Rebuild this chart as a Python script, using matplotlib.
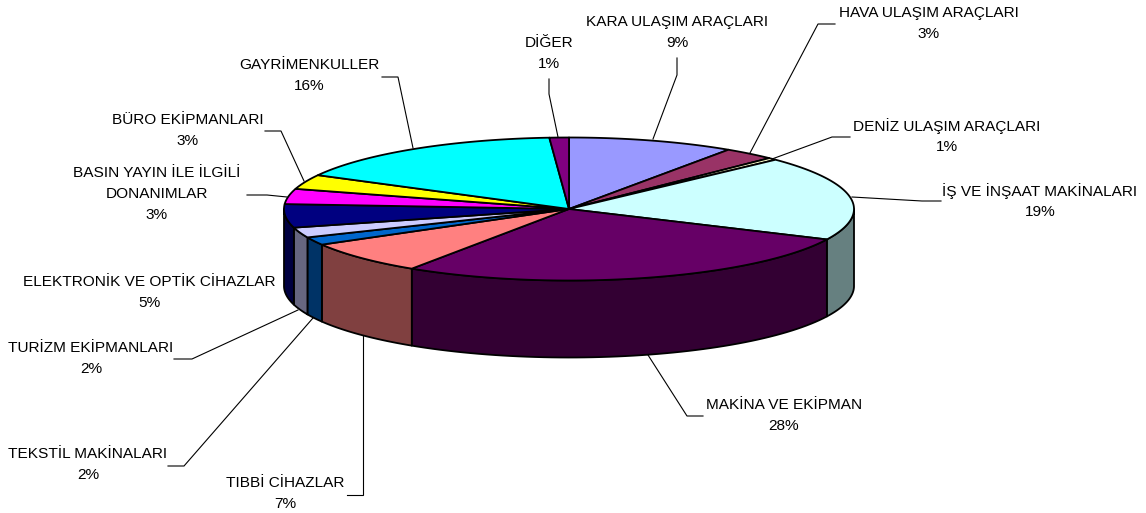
import numpy as np
import matplotlib
matplotlib.use("Agg")
import matplotlib.pyplot as plt
from matplotlib.patches import Polygon

categories = ["KARA ULAŞIM ARAÇLARI", "HAVA ULAŞIM ARAÇLARI", "DENİZ ULAŞIM ARAÇLARI",
              "İŞ VE İNŞAAT MAKİNALARI", "MAKİNA VE EKİPMAN", "TIBBİ CİHAZLAR",
              "TEKSTİL MAKİNALARI", "TURİZM EKİPMANLARI", "ELEKTRONİK VE OPTİK CİHAZLAR",
              "BASIN YAYIN İLE İLGİLİ\nDONANIMLAR", "BÜRO EKİPMANLARI", "GAYRİMENKULLER", "DİĞER"]
values = [9.45, 2.95, 0.5, 19.1, 27.3, 7.4, 1.8, 2.3, 5.3, 3.45, 3.3, 16.05, 1.1]
percent_labels = ["9%", "3%", "1%", "19%", "28%", "7%", "2%", "2%", "5%", "3%", "3%", "16%", "1%"]
top_colors = ["#9999FF", "#993366", "#FFFFCC", "#CCFFFF", "#660066", "#FF8080", "#0066CC",
              "#CCCCFF", "#000080", "#FF00FF", "#FFFF00", "#00FFFF", "#800080"]
side_colors = ["#4D4D80", "#4D1A33", "#808066", "#668080", "#330033", "#804040", "#003366",
               "#666680", "#000040", "#800080", "#808000", "#008080", "#400040"]

# layout, pixels
CX, CY, RX, RY, DEPTH = 569, 209, 285, 71.5, 77
label_xy = [(677, 22), (929, 13), (947, 126), (1040, 191), (784, 405), (285, 483), (88, 454),
            (91, 348), (149, 282), (157, 173), (188, 120), (309, 65), (549, 43)]
leaders = [[(653, 139), (677, 75), (677, 58)],
           [(750, 153), (818, 24), (835, 24)],
           [(772, 159), (832, 137), (850, 137)],
           [(852, 197), (922, 201), (941, 201)],
           [(648, 355), (687, 416), (703, 416)],
           [(363, 335), (363, 495), (347, 495)],
           [(313, 318), (184, 466), (168, 466)],
           [(298, 310), (192, 359), (174, 359)],
           None,
           [(287, 197), (267, 195), (247, 195)],
           [(304, 181), (281, 131), (265, 131)],
           [(413, 148), (398, 77), (382, 77)],
           [(558, 137), (549, 94), (549, 79)]]
LINE_PITCH = 21

plt.rcParams["font.family"] = ["Liberation Sans", "DejaVu Sans"]
fig = plt.figure(figsize=(11.46, 5.13), dpi=100)
ax = fig.add_axes([0, 0, 1, 1])
ax.set_xlim(0, 1146)
ax.set_ylim(513, 0)
ax.axis("off")


def ell(t):
    r = np.radians(t)
    return CX + RX * np.sin(r), CY - RY * np.cos(r)


edges = 360 * np.concatenate([[0], np.cumsum(values)]) / np.sum(values)
LW = 1.3

# walls
for i in range(len(values)):
    a, b = max(edges[i], 90), min(edges[i + 1], 270)
    if b <= a:
        continue
    t = np.linspace(a, b, 60)
    x, y = ell(t)
    pts = np.column_stack([np.r_[x, x[::-1]], np.r_[y, (y + DEPTH)[::-1]]])
    ax.add_patch(Polygon(pts, closed=True, fc=side_colors[i], ec="black", lw=LW, joinstyle="round", zorder=2))

# top face
for i in range(len(values)):
    t = np.linspace(edges[i], edges[i + 1], 80)
    x, y = ell(t)
    pts = np.column_stack([np.r_[CX, x], np.r_[CY, y]])
    ax.add_patch(Polygon(pts, closed=True, fc=top_colors[i], ec="black", lw=LW, joinstyle="round", zorder=3))

# leaders and labels
for i, name in enumerate(categories):
    if leaders[i] is not None:
        p = np.array(leaders[i])
        ax.plot(p[:, 0], p[:, 1], color="black", lw=0.8, zorder=1, solid_joinstyle="miter")
    x, y = label_xy[i]
    lines = name.split("\n") + [percent_labels[i]]
    for k, s in enumerate(lines):
        ax.text(x, y + k * LINE_PITCH, s, ha="center", va="center", fontsize=11.1, color="black", zorder=4)

fig.savefig("out.png", dpi=100, facecolor="white")
